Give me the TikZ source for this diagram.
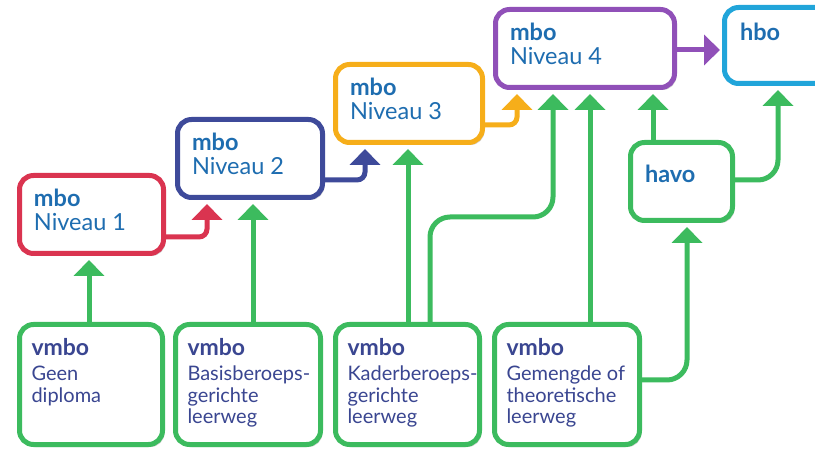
\documentclass[tikz,border=0pt]{standalone}
\usepackage{fontspec}
\setmainfont{Lato}
\usetikzlibrary{arrows.meta,shadows}
\hfuzz=200pt
\definecolor{cRed}{HTML}{DA3450}
\definecolor{cNavy}{HTML}{3E4A9A}
\definecolor{cOrange}{HTML}{F6AE1A}
\definecolor{cPurple}{HTML}{9050B8}
\definecolor{cCyan}{HTML}{21A5DA}
\definecolor{cGreen}{HTML}{3CBB5E}
\definecolor{tBlue}{HTML}{1E6DB0}
\definecolor{tNavy}{HTML}{3A4691}
\newcommand\bxt[3]{\parbox[c][#2][t]{#1}{\raggedright #3}}
\newcommand\mbofont{\fontsize{23.5}{24}\selectfont\color{tBlue}}
\newcommand\vmtitle[1]{{\fontsize{23}{21.5}\selectfont\bfseries #1}}
\newcommand\vmfont{\fontsize{20}{21.5}\selectfont\color{tNavy}}
\begin{document}
\begin{tikzpicture}[x=1pt,y=-1pt,
  box/.style={draw, line width=5pt, rounded corners=14pt, fill=white, inner sep=0pt,
    drop shadow={shadow xshift=2pt,shadow yshift=-2.5pt,opacity=0.18,fill=black}},
  mbobox/.style={box, minimum height=78pt},
  vmbox/.style={box, draw=cGreen, minimum width=145pt, minimum height=120pt},
  conn/.style={line width=5pt, rounded corners=8pt, -{Triangle[width=30pt,length=16pt]}, shorten >=4pt},
  gconn/.style={conn, draw=cGreen, rounded corners=20pt}]
\useasboundingbox (0,0) rectangle (815,449);
\clip (0,0) rectangle (815,449);
% mbo boxes
\node[mbobox, draw=cRed, minimum width=144pt] (n1) at (91.5,214.5)
  {\bxt{115pt}{51pt}{\mbofont\textbf{mbo}\\Niveau 1}};
\node[mbobox, draw=cNavy, minimum width=145pt] (n2) at (250,158.5)
  {\bxt{116pt}{51pt}{\mbofont\textbf{mbo}\\Niveau 2}};
\node[mbobox, draw=cOrange, minimum width=147pt] (n3) at (409,103.5)
  {\bxt{118pt}{51pt}{\mbofont\textbf{mbo}\\Niveau 3}};
\node[mbobox, draw=cPurple, minimum width=179pt] (n4) at (585,48.5)
  {\bxt{150pt}{51pt}{\mbofont\textbf{mbo}\\Niveau 4}};
\node[box, draw=cCyan, minimum width=150pt, minimum height=76pt] (hbo) at (799.5,45.5)
  {\bxt{119pt}{45pt}{\mbofont\textbf{hbo}}};
\node[box, draw=cGreen, minimum width=102pt, minimum height=78pt] (havo) at (681.5,181.5)
  {\bxt{73pt}{33pt}{\mbofont\textbf{havo}}};
% vmbo boxes
\node[vmbox, minimum width=143pt] (v1) at (91,384.5)
  {\bxt{119pt}{92pt}{\vmfont\vmtitle{vmbo}\\[3.5pt]\mbox{Geen}\\\mbox{diploma}}};
\node[vmbox] (v2) at (248,384.5)
  {\bxt{121pt}{92pt}{\vmfont\vmtitle{vmbo}\\[3.5pt]\mbox{Basisberoeps-}\\\mbox{gerichte}\\\mbox{leerweg}}};
\node[vmbox, minimum width=144pt] (v3) at (407.5,384.5)
  {\bxt{120pt}{92pt}{\vmfont\vmtitle{vmbo}\\[3.5pt]\mbox{Kaderberoeps-}\\\mbox{gerichte}\\\mbox{leerweg}}};
\node[vmbox] (v4) at (567,384.5)
  {\bxt{121pt}{92pt}{\vmfont\vmtitle{vmbo}\\[3.5pt]\mbox{Gemengde of}\\\mbox{theoretische}\\\mbox{leerweg}}};
% connectors between mbo levels
\draw[conn, draw=cRed] (n1.east |- 0,237) -| (207,0 |- n2.south);
\draw[conn, draw=cNavy] (n2.east |- 0,180) -| (365,0 |- n3.south);
\draw[conn, draw=cOrange] (n3.east |- 0,125) -| (517,0 |- n4.south);
\draw[conn, draw=cPurple, shorten >=2pt] (n4.east |- 0,50) -- (hbo.west |- 0,50);
% green connectors
\draw[gconn] (89,0 |- v1.north) -- (89,0 |- n1.south);
\draw[gconn] (253,0 |- v2.north) -- (253,0 |- n2.south);
\draw[gconn] (408,0 |- v3.north) -- (408,0 |- n3.south);
\draw[gconn] (430,0 |- v3.north) |- (553,217) -- (553,0 |- n4.south);
\draw[gconn] (590,0 |- v4.north) -- (590,0 |- n4.south);
\draw[gconn] (653,0 |- havo.north) -- (653,0 |- n4.south);
\draw[gconn] (havo.east |- 0,180) -| (778,0 |- hbo.south);
\draw[gconn] (v4.east |- 0,380) -| (687,0 |- havo.south);
\end{tikzpicture}
\end{document}
